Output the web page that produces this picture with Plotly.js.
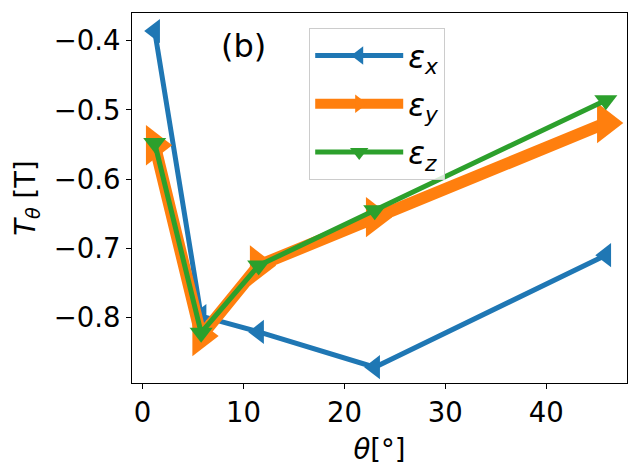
<!DOCTYPE html>
<html>
<head>
<meta charset="utf-8">
<script src="https://cdn.plot.ly/plotly-3.0.1.min.js"></script>
<style>
	body { margin: 0; padding: 0; background: #ffffff; }
	#plot { width: 640px; height: 469px; }
</style>
</head>
<body>
<div id="plot"></div>
<script>
// angle theta in degrees, shared by the three strain directions
var theta = [1.2, 5.8, 11.5, 23.0, 45.9];

// T_theta in T for each strain direction
var tEpsX = [-0.386, -0.798, -0.821, -0.872, -0.710];
var tEpsY = [-0.551, -0.827, -0.725, -0.655, -0.519];
var tEpsZ = [-0.548, -0.822, -0.725, -0.645, -0.486];

var xTicks = [0, 10, 20, 30, 40];
var yTicks = [-0.8, -0.7, -0.6, -0.5, -0.4];

var font = 'DejaVu Sans, sans-serif';

var traceX = {
	x: theta,
	y: tEpsX,
	name: '<i>ε</i><sub><i>x</i></sub>',
	legendgroup: 'a',
	mode: 'lines+markers',
	line: { color: '#1f77b4', width: 5 },
	marker: { symbol: 'triangle-left', size: 21, color: '#1f77b4' }
};

var traceY = {
	x: theta,
	y: tEpsY,
	name: '<i>ε</i><sub><i>y</i></sub>',
	legendgroup: 'b',
	mode: 'lines+markers',
	line: { color: '#ff7f0e', width: 12 },
	marker: { symbol: 'triangle-right', size: 35, color: '#ff7f0e' }
};

var traceZ = {
	x: theta,
	y: tEpsZ,
	name: '<i>ε</i><sub><i>z</i></sub>',
	legendgroup: 'c',
	mode: 'lines+markers',
	line: { color: '#2ca02c', width: 5 },
	marker: { symbol: 'triangle-down', size: 20, color: '#2ca02c' }
};

var layout = {
	width: 640,
	height: 469,
	paper_bgcolor: '#ffffff',
	plot_bgcolor: '#ffffff',
	hovermode: false,
	margin: { l: 132, r: 13, t: 13, b: 86 },
	font: { family: font, size: 27.5, color: '#000000' },
	showlegend: true,
	legend: {
		x: 0.358,
		y: 0.96,
		xanchor: 'left',
		yanchor: 'top',
		bgcolor: 'rgba(255,255,255,0.8)',
		bordercolor: '#cccccc',
		borderwidth: 1,
		itemwidth: 88,
		tracegroupgap: 5,
		font: { family: font, size: 31, color: '#000000' }
	},
	xaxis: {
		range: [-1.05, 48.0],
		autorange: false,
		tickvals: xTicks,
		ticktext: xTicks.map(String),
		ticks: 'outside',
		ticklen: 5,
		tickwidth: 1,
		tickcolor: '#000000',
		showgrid: false,
		zeroline: false,
		showline: true,
		linecolor: '#000000',
		linewidth: 1,
		mirror: true,
		tickfont: { family: font, size: 27.5, color: '#000000' },
		title: {
			text: '<i>θ</i>[°]',
			standoff: 12,
			font: { family: font, size: 27.5, color: '#000000' }
		}
	},
	yaxis: {
		range: [-0.8948, -0.3599],
		autorange: false,
		tickvals: yTicks,
		ticks: 'outside',
		ticklen: 5,
		tickwidth: 1,
		tickcolor: '#000000',
		tickformat: '.1f',
		showgrid: false,
		zeroline: false,
		showline: true,
		linecolor: '#000000',
		linewidth: 1,
		mirror: true,
		tickfont: { family: font, size: 27.5, color: '#000000' },
		title: {
			text: '<i>T</i><sub><i>θ</i></sub> [T]',
			standoff: 10,
			font: { family: font, size: 27.5, color: '#000000' }
		}
	},
	annotations: [{
		text: '(b)',
		xref: 'paper',
		yref: 'paper',
		x: 0.2246,
		y: 0.9115,
		xanchor: 'center',
		yanchor: 'middle',
		showarrow: false,
		font: { family: font, size: 32, color: '#000000' }
	}]
};

var data = [traceX, traceY, traceZ];

Plotly.newPlot('plot', data, layout, { displayModeBar: false, staticPlot: true });
</script>
</body>
</html>
